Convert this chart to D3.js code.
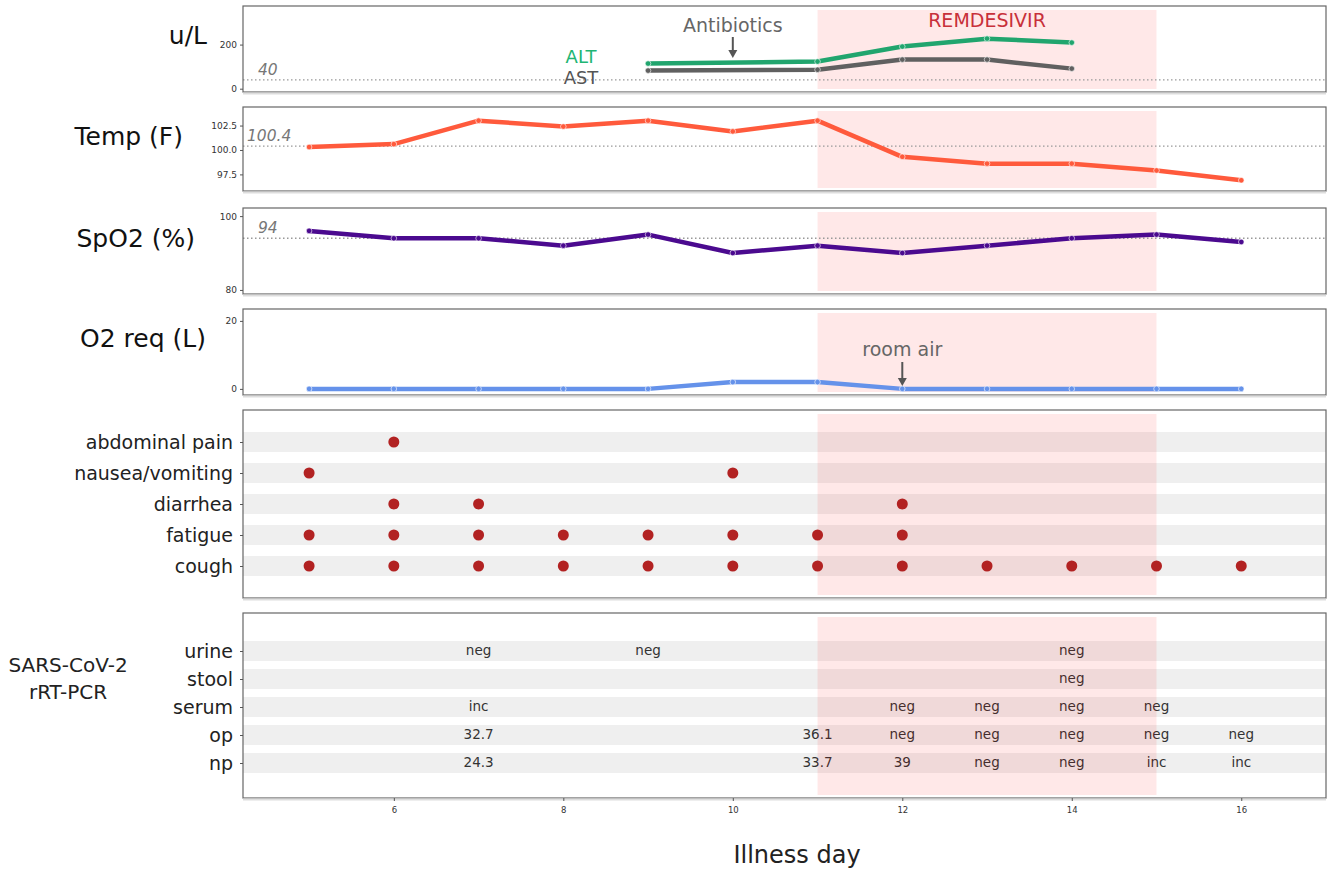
<!DOCTYPE html>
<html>
<head>
<meta charset="utf-8">
<script src="https://cdn.jsdelivr.net/npm/d3@7"></script>
<style>
  body { margin: 0; background: #fff; }
  text { font-family: "DejaVu Sans", sans-serif; }
</style>
</head>
<body>
<div id="chart"></div>
<script>
// ---- data ----
const days = [5, 6, 7, 8, 9, 10, 11, 12, 13, 14, 15, 16];
const altDays = [9, 11, 12, 13, 14];
const altValues = [114, 123, 191, 227, 209];
const astValues = [82, 86, 132, 132, 91];
const tempValues = [100.3, 100.6, 103.0, 102.4, 103.0, 101.9, 103.0, 99.3, 98.6, 98.6, 97.9, 96.9];
const spo2Values = [96, 94, 94, 92, 95, 90, 92, 90, 92, 94, 95, 93];
const o2Values = [0, 0, 0, 0, 0, 2, 2, 0, 0, 0, 0, 0];
const remdesivir = [11, 15];
const antibioticsDay = 10;
const roomAirDay = 12;

const symptoms = ["abdominal pain", "nausea/vomiting", "diarrhea", "fatigue", "cough"];
const symptomDays = {
  "abdominal pain": [6],
  "nausea/vomiting": [5, 10],
  "diarrhea": [6, 7, 12],
  "fatigue": [5, 6, 7, 8, 9, 10, 11, 12],
  "cough": [5, 6, 7, 8, 9, 10, 11, 12, 13, 14, 15, 16]
};

const specimens = ["urine", "stool", "serum", "op", "np"];
const pcrResults = [
  ["urine", 7, "neg"], ["urine", 9, "neg"], ["urine", 14, "neg"],
  ["stool", 14, "neg"],
  ["serum", 7, "inc"], ["serum", 12, "neg"], ["serum", 13, "neg"], ["serum", 14, "neg"], ["serum", 15, "neg"],
  ["op", 7, "32.7"], ["op", 11, "36.1"], ["op", 12, "neg"], ["op", 13, "neg"], ["op", 14, "neg"], ["op", 15, "neg"], ["op", 16, "neg"],
  ["np", 7, "24.3"], ["np", 11, "33.7"], ["np", 12, "39"], ["np", 13, "neg"], ["np", 14, "neg"], ["np", 15, "inc"], ["np", 16, "inc"]
];
const xTicks = [6, 8, 10, 12, 14, 16];

// ---- layout ----
const width = 1327, height = 869;
const left = 243, right = 1326;
const x = d3.scaleLinear().domain([4.22, 17.0]).range([left, right]);

const svg = d3.select("#chart").append("svg")
  .attr("width", width).attr("height", height);

function frame(top, bottom) {
  svg.append("rect")
    .attr("x", left).attr("y", top)
    .attr("width", right - left).attr("height", bottom - top)
    .attr("fill", "none").attr("stroke", "#666").attr("stroke-width", 1.2);
  svg.append("line")
    .attr("x1", left).attr("x2", right)
    .attr("y1", bottom + 1.5).attr("y2", bottom + 1.5)
    .attr("stroke", "#ddd").attr("stroke-width", 2);
}

function shade(top, bottom) {
  svg.append("rect")
    .attr("x", x(remdesivir[0])).attr("y", top + 4)
    .attr("width", x(remdesivir[1]) - x(remdesivir[0]))
    .attr("height", bottom - top - 7)
    .attr("fill", "red").attr("opacity", 0.09);
}

function yAxis(y, ticks, fmt) {
  const g = svg.append("g").attr("transform", "translate(" + left + ",0)")
    .call(d3.axisLeft(y).tickValues(ticks).tickSize(3).tickPadding(3).tickFormat(fmt));
  g.select(".domain").remove();
  g.selectAll("line").attr("stroke", "#555");
  g.selectAll("text").style("font-size", "9px").attr("fill", "#333");
}

function title(txt, xEnd, yPos) {
  svg.append("text").attr("x", xEnd).attr("y", yPos)
    .attr("text-anchor", "end").attr("dominant-baseline", "middle")
    .style("font-size", "25px").attr("fill", "#111").text(txt);
}

function refLine(y, val, label, lx) {
  svg.append("line")
    .attr("x1", left).attr("x2", right).attr("y1", y(val)).attr("y2", y(val))
    .attr("stroke", "#999").attr("stroke-width", 1.3).attr("stroke-dasharray", "1.5,2.5");
  svg.append("text").attr("x", lx).attr("y", y(val) - 5)
    .style("font-size", "15.5px").style("font-style", "italic")
    .attr("fill", "#777").text(label);
}

function series(y, xs, vals, color) {
  const pts = xs.map((d, i) => [d, vals[i]]);
  svg.append("path").datum(pts)
    .attr("fill", "none").attr("stroke", color).attr("stroke-width", 4.5)
    .attr("stroke-linejoin", "round").attr("stroke-linecap", "round")
    .attr("d", d3.line().x(d => x(d[0])).y(d => y(d[1])));
  svg.append("g").selectAll("circle").data(pts).join("circle")
    .attr("cx", d => x(d[0])).attr("cy", d => y(d[1])).attr("r", 2.8)
    .attr("fill", color).attr("stroke", "#fff").attr("stroke-width", 0.6);
}

function arrow(xp, y1, y2) {
  svg.append("line").attr("x1", xp).attr("x2", xp).attr("y1", y1).attr("y2", y2 - 6)
    .attr("stroke", "#555").attr("stroke-width", 2);
  svg.append("path")
    .attr("d", "M" + (xp - 4.5) + "," + (y2 - 8) + " L" + (xp + 4.5) + "," + (y2 - 8) + " L" + xp + "," + y2 + " Z")
    .attr("fill", "#555");
}

function note(txt, xp, yp, color, size) {
  svg.append("text").attr("x", xp).attr("y", yp).attr("text-anchor", "middle")
    .style("font-size", (size || 19) + "px").attr("fill", color).text(txt);
}

// ---- panel 1: liver enzymes ----
const y1 = d3.scaleLinear().domain([-15, 375]).range([92, 6]);
shade(6, 92);
refLine(y1, 40, "40", 258);
series(y1, altDays, astValues, "#606060");
series(y1, altDays, altValues, "#21a56e");
frame(6, 92);
yAxis(y1, [0, 200], d3.format("d"));
title("u/L", 207, 37);
note("ALT", 581, 63, "#21b573", 18);
note("AST", 581, 84, "#555", 18);
note("Antibiotics", x(antibioticsDay), 32, "#666");
arrow(x(antibioticsDay), 37, 58);
note("REMDESIVIR", (x(remdesivir[0]) + x(remdesivir[1])) / 2, 27, "#c8303a");

// ---- panel 2: temperature ----
const y2 = d3.scaleLinear().domain([95.8, 104.4]).range([191, 107]);
shade(107, 191);
refLine(y2, 100.4, "100.4", 247);
series(y2, days, tempValues, "#ff5a3c");
frame(107, 191);
yAxis(y2, [97.5, 100, 102.5], d3.format(".1f"));
title("Temp (F)", 183, 138);

// ---- panel 3: SpO2 ----
const y3 = d3.scaleLinear().domain([78.9, 102.2]).range([294, 208]);
shade(208, 294);
refLine(y3, 94, "94", 258);
series(y3, days, spo2Values, "#4b0a8f");
frame(208, 294);
yAxis(y3, [80, 100], d3.format("d"));
title("SpO2 (%)", 195, 240);

// ---- panel 4: O2 requirement ----
const y4 = d3.scaleLinear().domain([-1.8, 23.5]).range([395, 309]);
shade(309, 395);
series(y4, days, o2Values, "#6592ea");
frame(309, 395);
yAxis(y4, [0, 20], d3.format("d"));
title("O2 req (L)", 206, 340);
note("room air", x(roomAirDay), 356, "#666");
arrow(x(roomAirDay), 362, 386);

// ---- panel 5: symptoms ----
const yS = d3.scalePoint().domain(symptoms).range([442, 566]);
svg.append("g").selectAll("rect").data(symptoms).join("rect")
  .attr("x", left).attr("y", d => yS(d) - 10).attr("width", right - left).attr("height", 20)
  .attr("fill", "#efefef");
shade(410, 598);
const symPts = symptoms.flatMap(s => symptomDays[s].map(d => [s, d]));
svg.append("g").selectAll("circle").data(symPts).join("circle")
  .attr("cx", d => x(d[1])).attr("cy", d => yS(d[0])).attr("r", 5.5)
  .attr("fill", "#b22222");
frame(410, 598);
const gS = svg.append("g").attr("transform", "translate(" + left + ",0)")
  .call(d3.axisLeft(yS).tickSize(3).tickPadding(7));
gS.select(".domain").remove();
gS.selectAll("line").attr("stroke", "#555");
gS.selectAll("text").style("font-size", "19px").attr("fill", "#222");

// ---- panel 6: rRT-PCR ----
const yP = d3.scalePoint().domain(specimens).range([651, 763]);
svg.append("g").selectAll("rect").data(specimens).join("rect")
  .attr("x", left).attr("y", d => yP(d) - 10).attr("width", right - left).attr("height", 20)
  .attr("fill", "#efefef");
svg.append("g").selectAll("text").data(pcrResults).join("text")
  .attr("x", d => x(d[1])).attr("y", d => yP(d[0])).attr("text-anchor", "middle")
  .attr("dominant-baseline", "middle").style("font-size", "13.5px").attr("fill", "#333")
  .text(d => d[2]);
shade(613, 798);
frame(613, 798);
const gP = svg.append("g").attr("transform", "translate(" + left + ",0)")
  .call(d3.axisLeft(yP).tickSize(3).tickPadding(7));
gP.select(".domain").remove();
gP.selectAll("line").attr("stroke", "#555");
gP.selectAll("text").style("font-size", "19px").attr("fill", "#222");
svg.append("text").attr("x", 68).attr("y", 672).attr("text-anchor", "middle")
  .style("font-size", "20px").attr("fill", "#222").text("SARS-CoV-2");
svg.append("text").attr("x", 68).attr("y", 699).attr("text-anchor", "middle")
  .style("font-size", "20px").attr("fill", "#222").text("rRT-PCR");

// ---- x axis ----
const gX = svg.append("g").attr("transform", "translate(0,798)")
  .call(d3.axisBottom(x).tickValues(xTicks).tickSize(3).tickPadding(6).tickFormat(d3.format("d")));
gX.select(".domain").remove();
gX.selectAll("line").attr("stroke", "#555");
gX.selectAll("text").style("font-size", "8.5px").attr("fill", "#333");
svg.append("text").attr("x", 797).attr("y", 863).attr("text-anchor", "middle")
  .style("font-size", "24px").attr("fill", "#222").text("Illness day");
</script>
</body>
</html>
